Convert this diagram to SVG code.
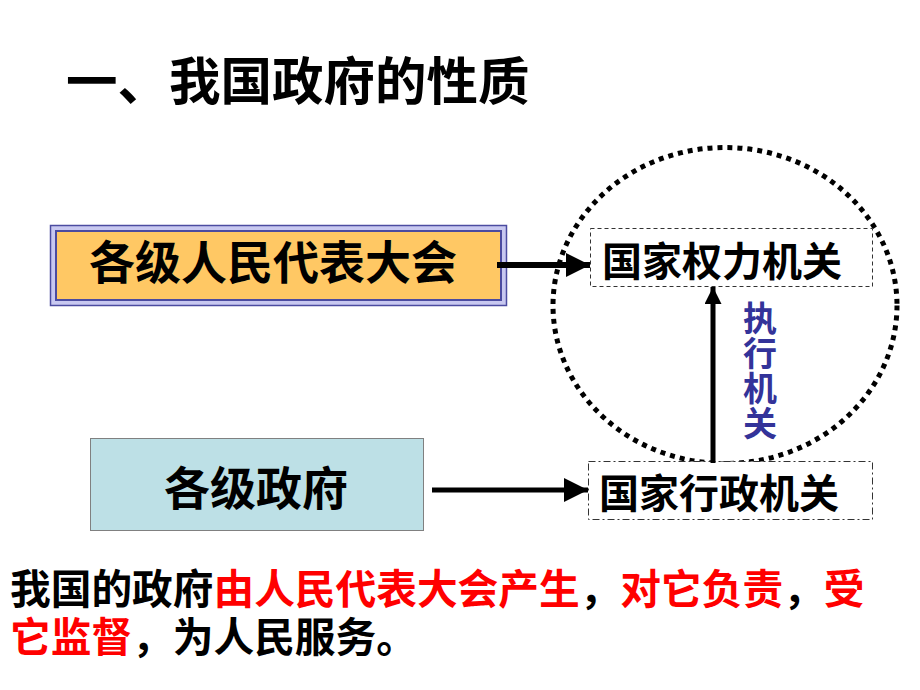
<svg xmlns="http://www.w3.org/2000/svg" width="920" height="690" viewBox="0 0 920 690">
<defs>
<style>
.t{font-family:"Noto Sans CJK SC","Noto Sans",sans-serif;font-weight:bold;}
.blk{fill:#000;}
.red{fill:#FF0000;}
.conn{stroke:#000;fill:none;}
</style>
<marker id="ah" viewBox="0 0 10 10" refX="10" refY="5" markerWidth="24" markerHeight="24" markerUnits="userSpaceOnUse" orient="auto">
<path d="M0,0 L10,5 L0,10 Z" fill="#000"/>
</marker>
<marker id="ahv" viewBox="0 0 10 10" refX="10" refY="5" markerWidth="17" markerHeight="17" markerUnits="userSpaceOnUse" orient="auto">
<path d="M0,0 L10,5 L0,10 Z" fill="#000"/>
</marker>
</defs>
<rect width="920" height="690" fill="#fff"/>
<text id="title" class="t blk" x="66" y="100" font-size="51.5">一、我国政府的性质</text>

<g id="circle">
<ellipse cx="725" cy="305.5" rx="172" ry="158" fill="none" stroke="#000" stroke-width="5" stroke-dasharray="5 5"/>
</g>

<g id="npc">
<rect x="50.5" y="225.5" width="456" height="80" fill="#C8C8F0" stroke="#4B4BA0" stroke-width="1.5"/>
<rect x="56" y="231" width="445" height="69" fill="#FFC864" stroke="#4B4BA0" stroke-width="2"/>
<text class="t blk" x="273" y="279" font-size="46" text-anchor="middle">各级人民代表大会</text>
</g>

<g id="gov">
<rect x="90.5" y="438.5" width="333" height="92" fill="#BDE0E6" stroke="#808080" stroke-width="1"/>
<text class="t blk" x="256" y="505" font-size="46" text-anchor="middle">各级政府</text>
</g>

<g id="power">
<rect x="590.5" y="228.5" width="282" height="58" fill="#fff" stroke="#333" stroke-width="1" stroke-dasharray="4 3"/>
<text class="t blk" x="602" y="276" font-size="40">国家权力机关</text>
</g>

<g id="admin">
<rect x="588.5" y="461.5" width="284" height="58" fill="#fff" stroke="#333" stroke-width="1" stroke-dasharray="7 3 2 3"/>
<text class="t blk" x="599" y="508" font-size="40">国家行政机关</text>
</g>

<g id="connectors">
<line class="conn" x1="497" y1="265" x2="590" y2="265" stroke-width="6" marker-end="url(#ah)"/>
<line class="conn" x1="432" y1="490" x2="588" y2="490" stroke-width="5" marker-end="url(#ah)"/>
<line class="conn" x1="713" y1="463" x2="713" y2="287" stroke-width="5" marker-end="url(#ahv)"/>
</g>

<text id="label" class="t" fill="#333399" font-size="34" x="760" y="301" writing-mode="vertical-rl" letter-spacing="1">执行机关</text>

<g id="caption" class="t" font-size="40.7">
<text x="10" y="604"><tspan class="blk">我国的政府</tspan><tspan class="red">由人民代表大会产生</tspan><tspan class="blk">，</tspan><tspan class="red">对它负责</tspan><tspan class="blk">，</tspan><tspan class="red">受</tspan></text>
<text x="10" y="652"><tspan class="red">它监督</tspan><tspan class="blk">，为人民服务。</tspan></text>
</g>
</svg>
